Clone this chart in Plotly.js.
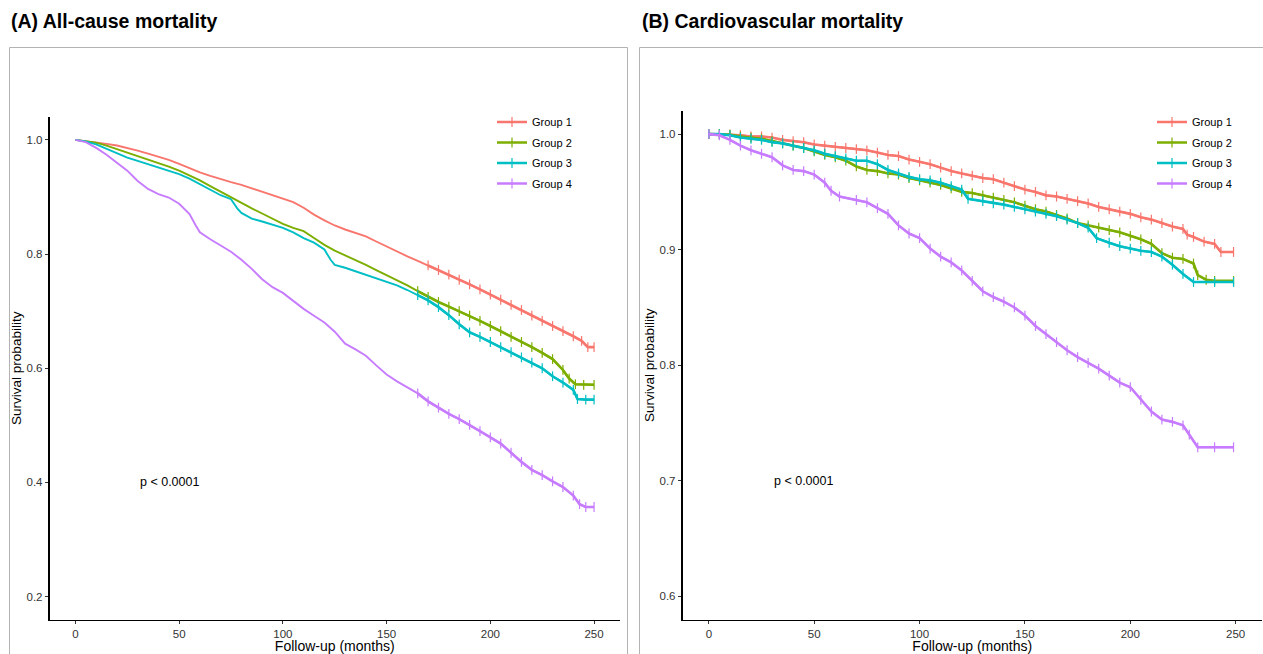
<!DOCTYPE html>
<html>
<head>
<meta charset="utf-8">
<script src="https://cdn.plot.ly/plotly-3.0.1.min.js"></script>
<style>html,body{margin:0;padding:0;background:#fff;}#chart{width:1263px;height:654px;}</style>
</head>
<body>
<div id="chart"></div>
<script>
// ---------- data ----------
const groupNames = ["Group 1", "Group 2", "Group 3", "Group 4"];
const groupColors = ["#F8766D", "#7CAE00", "#00BFC4", "#C77CFF"];

// Panel A: all-cause mortality
const timeA1 = [0,5,10,15,20,25,30,35,40,45,50,55,60,65,70,75,80,85,90,95,100,105,110,115,120,125,130,135,140,145,150,155,160,165,170,175,180,185,190,195,200,205,210,215,220,225,230,235,240,244,247,250];
const survA1 = [1.000,.998,.996,.993,.990,.986,.981,.976,.971,.965,.958,.950,.943,.937,.931,.926,.921,.915,.910,.904,.898,.891,.881,.869,.859,.850,.843,.837,.831,.822,.813,.805,.796,.788,.780,.772,.764,.755,.747,.738,.729,.720,.711,.702,.692,.683,.674,.665,.656,.648,.637,.637];
const timeA2 = [0,5,10,15,20,25,30,35,40,45,50,55,60,65,70,75,80,85,90,95,100,105,110,115,120,125,130,135,140,145,150,155,160,165,170,175,180,185,190,195,200,205,210,215,220,225,230,235,238,241,245,250];
const survA2 = [1.000,.998,.995,.990,.984,.978,.972,.966,.960,.953,.946,.938,.929,.919,.909,.899,.890,.880,.871,.862,.853,.846,.840,.828,.816,.806,.798,.790,.781,.772,.763,.755,.745,.735,.725,.716,.708,.700,.692,.683,.674,.665,.655,.646,.637,.627,.616,.597,.582,.572,.571,.571];
const timeA3 = [0,5,10,15,20,25,30,35,40,45,50,55,60,65,70,75,78,80,85,90,95,100,105,110,115,120,123,125,130,135,140,145,150,155,160,165,170,175,180,185,190,195,200,205,210,215,220,225,230,235,240,242,246,250];
const survA3 = [1.000,.997,.992,.984,.976,.969,.963,.957,.952,.946,.940,.932,.922,.912,.903,.896,.880,.872,.862,.857,.852,.846,.838,.828,.820,.808,.790,.781,.776,.770,.764,.758,.752,.745,.737,.728,.719,.707,.693,.677,.663,.655,.646,.637,.628,.619,.610,.600,.586,.575,.562,.546,.545,.545];
const timeA4 = [0,5,10,15,20,25,30,35,40,45,50,55,58,60,65,70,75,80,85,90,95,100,105,110,115,120,125,130,135,140,145,150,155,160,165,170,175,180,185,190,195,200,205,210,215,220,225,230,235,240,243,246,250];
const survA4 = [1.000,.996,.986,.974,.960,.946,.928,.914,.905,.899,.888,.870,.850,.838,.826,.815,.804,.790,.774,.756,.742,.732,.718,.704,.692,.680,.664,.643,.633,.622,.605,.589,.577,.566,.556,.542,.531,.520,.511,.501,.490,.479,.468,.452,.436,.422,.413,.402,.392,.377,.362,.357,.357];
const censorFromA = [170, 165, 165, 165];

// Panel B: cardiovascular mortality
const timeB1 = [0,5,10,15,20,25,30,35,40,45,50,55,60,65,70,75,80,85,90,95,100,105,110,115,120,125,130,135,140,145,150,155,160,165,170,175,180,185,190,195,200,205,210,215,220,225,227,230,235,240,243,249];
const survB1 = [1.000,1.000,.9995,.999,.998,.998,.997,.995,.994,.993,.991,.990,.989,.988,.987,.986,.984,.982,.981,.978,.976,.974,.971,.968,.966,.964,.962,.961,.958,.955,.952,.950,.947,.946,.944,.942,.940,.937,.935,.933,.931,.928,.926,.923,.920,.918,.913,.911,.907,.905,.898,.898];
const timeB2 = [0,5,10,15,20,25,30,35,40,45,50,55,60,65,70,75,80,85,90,95,100,105,110,115,120,125,130,135,140,145,150,155,160,165,170,175,180,185,190,195,200,205,210,215,220,225,230,232,236,240,249];
const survB2 = [1.000,1.000,.9995,.998,.997,.996,.994,.992,.990,.988,.985,.982,.980,.977,.972,.969,.968,.966,.965,.962,.960,.958,.956,.953,.950,.949,.947,.945,.943,.941,.938,.935,.933,.930,.927,.923,.921,.919,.917,.915,.912,.909,.905,.897,.893,.892,.888,.878,.874,.873,.873];
const timeB3 = [0,5,10,15,20,25,30,35,40,45,50,55,60,65,70,75,80,85,90,95,100,105,110,115,120,123,130,135,140,145,150,155,160,165,170,175,180,184,190,195,200,205,210,215,220,225,230,240,249];
const survB3 = [1.000,1.000,.999,.997,.996,.995,.993,.992,.990,.988,.986,.983,.981,.979,.977,.977,.974,.969,.966,.963,.961,.960,.958,.955,.952,.944,.942,.940,.939,.937,.935,.933,.931,.929,.926,.923,.919,.910,.906,.903,.901,.899,.898,.894,.887,.879,.872,.872,.872];
const timeB4 = [0,5,10,15,20,25,30,35,40,45,50,55,58,62,70,75,80,85,90,95,100,105,110,115,120,125,130,135,140,145,150,155,160,165,170,175,180,185,190,195,200,205,210,215,220,225,228,232,240,249];
const survB4 = [1.000,.999,.995,.990,.986,.983,.980,.973,.969,.968,.965,.958,.951,.946,.943,.941,.936,.931,.921,.914,.910,.901,.894,.889,.882,.873,.864,.859,.855,.850,.843,.834,.827,.820,.813,.807,.802,.797,.791,.785,.781,.770,.760,.753,.751,.748,.740,.729,.729,.729];
const censorFromB = [0, 0, 0, 0];

const pText = "p < 0.0001";
const xTicks = [0, 50, 100, 150, 200, 250];
const yTicksA = [0.2, 0.4, 0.6, 0.8, 1.0];
const yTicksB = [0.6, 0.7, 0.8, 0.9, 1.0];

// ---------- build traces ----------
const W = 1263, H = 654;
const px = v => v / W, py = v => 1 - v / H;
const FONT = "Liberation Sans, Arial, sans-serif";

function panelTraces(times, survs, censorFrom, xa, ya, legendId) {
  const out = [];
  for (let g = 0; g < 4; g++) {
    const t = times[g], s = survs[g], c = groupColors[g];
    out.push({
      type: "scatter", mode: "lines", x: t, y: s, xaxis: xa, yaxis: ya,
      line: {color: c, width: 1.9, shape: "linear"}, showlegend: false, hoverinfo: "skip"
    });
    const cx = [], cy = [];
    t.forEach((v, i) => { if (v >= censorFrom[g]) { cx.push(v); cy.push(s[i]); } });
    out.push({
      type: "scatter", mode: "lines+markers", x: cx, y: cy, xaxis: xa, yaxis: ya,
      name: groupNames[g], legend: legendId, legendgroup: legendId + g,
      line: {color: c, width: 2.6, shape: "linear"},
      marker: {symbol: "line-ns-open", size: 7, color: c, line: {width: 1.2, color: c}}
    });
  }
  return out;
}

const data = [].concat(
  panelTraces([timeA1, timeA2, timeA3, timeA4], [survA1, survA2, survA3, survA4], censorFromA, "x", "y", "legend"),
  panelTraces([timeB1, timeB2, timeB3, timeB4], [survB1, survB2, survB3, survB4], censorFromB, "x2", "y2", "legend2")
);

const axisCommon = {
  showline: true, linecolor: "#000", linewidth: 1.2, mirror: false,
  ticks: "outside", ticklen: 3.5, tickwidth: 1, tickcolor: "#333",
  tickfont: {family: FONT, size: 11.5, color: "#333"},
  showgrid: false, zeroline: false, fixedrange: true
};
const xTitle = {text: "Follow-up (months)", font: {family: FONT, size: 14, color: "#000"}, standoff: 1};
const yTitle = {text: "Survival probability", font: {family: FONT, size: 13.5, color: "#000"}, standoff: 1};
const legendCommon = {
  font: {family: FONT, size: 11, color: "#000"}, bgcolor: "rgba(0,0,0,0)",
  traceorder: "grouped", tracegroupgap: 1.5, xanchor: "left", yanchor: "top", itemclick: false
};

const layout = {
  width: W, height: H, margin: {l: 0, r: 0, t: 0, b: 0},
  paper_bgcolor: "#fff", plot_bgcolor: "#fff",
  font: {family: FONT},
  xaxis: Object.assign({}, axisCommon, {domain: [px(49.5), px(620)], range: [-12.5, 262.5], tickvals: xTicks, title: xTitle, anchor: "y"}),
  yaxis: Object.assign({}, axisCommon, {domain: [1 - 619.5 / H, 1 - 117 / H], range: [0.16, 1.04], tickvals: yTicksA, tickformat: ".1f", title: yTitle, anchor: "x"}),
  xaxis2: Object.assign({}, axisCommon, {domain: [px(682.5), px(1262)], range: [-12.5, 262.5], tickvals: xTicks, title: xTitle, anchor: "y2"}),
  yaxis2: Object.assign({}, axisCommon, {domain: [1 - 619.5 / H, 1 - 111 / H], range: [0.58, 1.02], tickvals: yTicksB, tickformat: ".1f", title: yTitle, anchor: "x2"}),
  legend: Object.assign({}, legendCommon, {x: px(492), y: py(107.5)}),
  legend2: Object.assign({}, legendCommon, {x: px(1152), y: py(107.5)}),
  shapes: [
    {type: "rect", xref: "paper", yref: "paper", x0: px(9.5), x1: px(627.5), y0: -0.05, y1: py(47.5), line: {color: "#b3b3b3", width: 1}, fillcolor: "rgba(0,0,0,0)", layer: "below"},
    {type: "rect", xref: "paper", yref: "paper", x0: px(639.5), x1: px(1263.5), y0: -0.05, y1: py(47.5), line: {color: "#b3b3b3", width: 1}, fillcolor: "rgba(0,0,0,0)", layer: "below"}
  ],
  annotations: [
    {text: "(A) All-cause mortality", xref: "paper", yref: "paper", x: px(9), y: py(21), xanchor: "left", yanchor: "middle", showarrow: false, font: {family: FONT, size: 19.5, weight: "bold", color: "#000"}},
    {text: "(B) Cardiovascular mortality", xref: "paper", yref: "paper", x: px(640), y: py(21), xanchor: "left", yanchor: "middle", showarrow: false, font: {family: FONT, size: 19.5, weight: "bold", color: "#000"}},
    {text: pText, xref: "x", yref: "y", x: 30, y: 0.4, xanchor: "left", yanchor: "middle", showarrow: false, font: {family: FONT, size: 12.5, color: "#000"}},
    {text: pText, xref: "x2", yref: "y2", x: 30, y: 0.7, xanchor: "left", yanchor: "middle", showarrow: false, font: {family: FONT, size: 12.5, color: "#000"}}
  ]
};

Plotly.newPlot("chart", data, layout, {displayModeBar: false, staticPlot: true});
</script>
</body>
</html>
